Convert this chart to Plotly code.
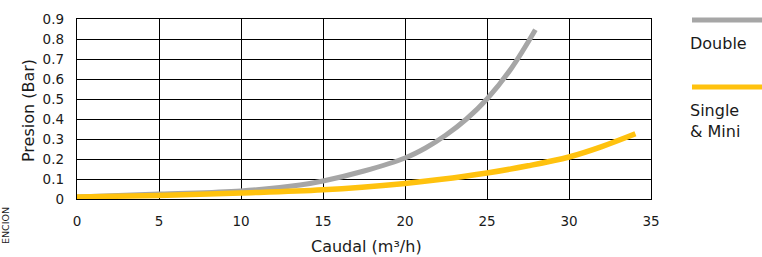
import plotly.graph_objects as go

# Data
flow_double = [0, 5, 10, 13.6, 15, 17.5, 20, 21.25, 22.5, 23.75, 25, 26.5, 27.95]
press_double = [0.01, 0.025, 0.04, 0.07, 0.09, 0.14, 0.205, 0.255, 0.32, 0.40, 0.5, 0.655, 0.846]

flow_single = [0, 5, 10, 15, 20, 22.1, 25, 27.5, 30, 32, 34.05]
press_single = [0.01, 0.018, 0.03, 0.046, 0.078, 0.097, 0.13, 0.166, 0.21, 0.262, 0.326]

x_ticks = [0, 5, 10, 15, 20, 25, 30, 35]
y_ticks = [0, 0.1, 0.2, 0.3, 0.4, 0.5, 0.6, 0.7, 0.8, 0.9]
y_tick_text = ["0", "0.1", "0.2", "0.3", "0.4", "0.5", "0.6", "0.7", "0.8", "0.9"]

series_names = ["Double", "Single<br>& Mini"]
colors = ["#a6a6a6", "#ffc20e"]

FONT = "DejaVu Sans"
TXT = "#1a1a1a"
W, H = 762, 257
L, R, T, B = 77, 111, 19, 58
pw, ph = W - L - R, H - T - B

def px_x(p):
    return (p - L) / pw

def px_y(p):
    return (H - B - p) / ph

fig = go.Figure()
fig.add_trace(go.Scatter(x=flow_double, y=press_double, mode="lines",
                         line=dict(color=colors[0], width=5, shape="spline", smoothing=1.0),
                         showlegend=False, cliponaxis=False, hoverinfo="skip"))
fig.add_trace(go.Scatter(x=flow_single, y=press_single, mode="lines",
                         line=dict(color=colors[1], width=5.5, shape="spline", smoothing=1.0),
                         showlegend=False, cliponaxis=False, hoverinfo="skip"))

axis_common = dict(showgrid=True, gridcolor="#000000", gridwidth=1,
                   showline=True, linecolor="#000000", linewidth=1.2, mirror=True,
                   zeroline=False, ticks="", automargin=False,
                   tickfont=dict(family=FONT, size=13.5, color=TXT))

fig.update_xaxes(range=[0, 35], tickvals=x_ticks, ticklabelstandoff=10, **axis_common)
fig.update_yaxes(range=[0, 0.9], tickvals=y_ticks, ticktext=y_tick_text,
                 ticklabelstandoff=9, **axis_common)

shapes = [
    dict(type="line", xref="paper", yref="paper", x0=px_x(692), x1=px_x(770),
         y0=px_y(20), y1=px_y(20), line=dict(color=colors[0], width=5)),
    dict(type="line", xref="paper", yref="paper", x0=px_x(692), x1=px_x(770),
         y0=px_y(87), y1=px_y(87), line=dict(color=colors[1], width=5)),
]

annotations = [
    dict(text=series_names[0], xref="paper", yref="paper", x=px_x(688), y=px_y(44),
         xanchor="left", yanchor="middle", showarrow=False, align="left",
         font=dict(family=FONT, size=16, color=TXT)),
    dict(text=series_names[1], xref="paper", yref="paper", x=px_x(688), y=px_y(121),
         xanchor="left", yanchor="middle", showarrow=False, align="left",
         font=dict(family=FONT, size=16, color=TXT)),
    dict(text="Caudal (m³/h)", xref="paper", yref="paper", x=px_x(366), y=px_y(246),
         xanchor="center", yanchor="middle", showarrow=False,
         font=dict(family=FONT, size=16, color=TXT)),
    dict(text="Presion (Bar)", xref="paper", yref="paper", x=px_x(28), y=px_y(110),
         xanchor="center", yanchor="middle", showarrow=False, textangle=-90,
         font=dict(family=FONT, size=16, color=TXT)),
    dict(text="ENCION", xref="paper", yref="paper", x=px_x(6), y=px_y(226),
         xanchor="center", yanchor="middle", showarrow=False, textangle=-90,
         font=dict(family=FONT, size=9.5, color=TXT)),
]

fig.update_layout(width=W, height=H, margin=dict(l=L, r=R, t=T, b=B, autoexpand=False),
                  paper_bgcolor="white", plot_bgcolor="white", hovermode=False,
                  shapes=shapes, annotations=annotations, showlegend=False)

fig.write_html("out.html", config={"displayModeBar": False, "staticPlot": True},
               post_script="document.body.style.margin='0';document.body.style.padding='0';document.body.style.overflow='hidden';")
